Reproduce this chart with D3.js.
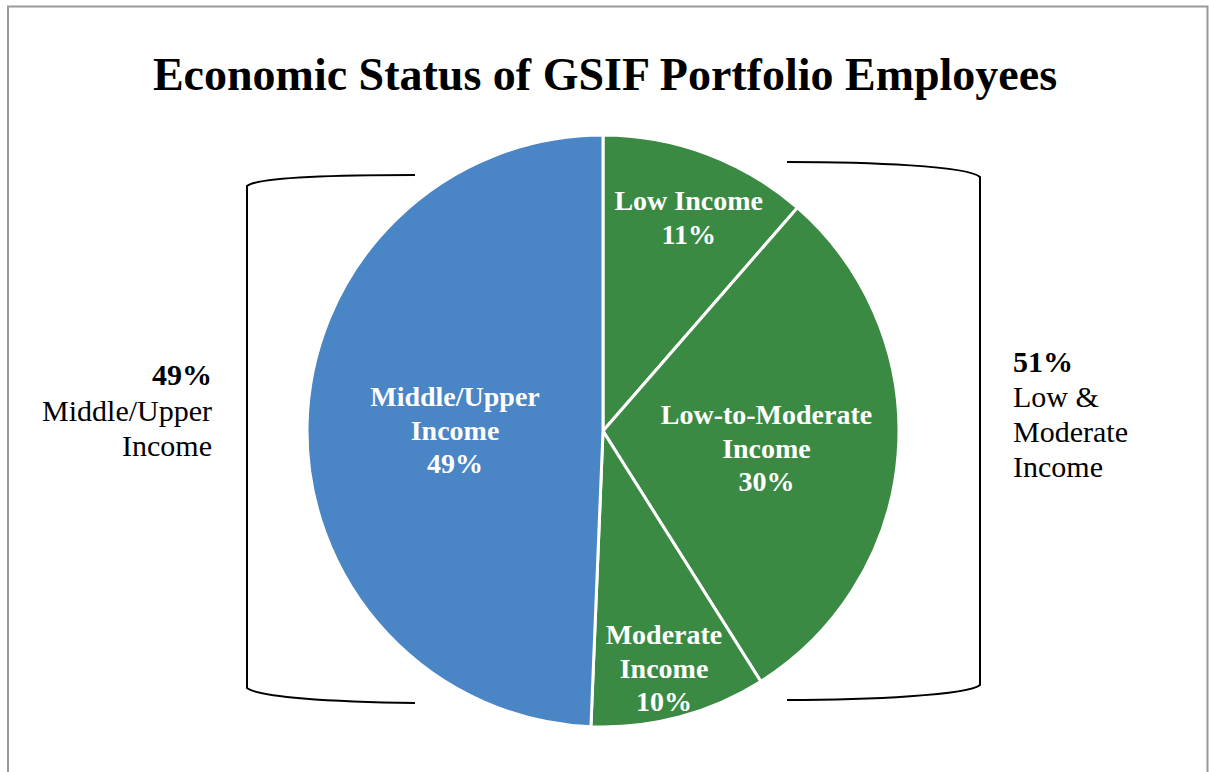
<!DOCTYPE html>
<html>
<head>
<meta charset="utf-8">
<script src="https://cdn.jsdelivr.net/npm/d3@7"></script>
<style>
  body { margin: 0; background: #fff; }
  text { font-family: "Liberation Serif", "Times New Roman", serif; }
</style>
</head>
<body>
<svg id="chart"></svg>
<script>
// data
var categories = ["Low Income", "Low-to-Moderate Income", "Moderate Income", "Middle/Upper Income"];
var labelLines = [["Low Income"], ["Low-to-Moderate", "Income"], ["Moderate", "Income"], ["Middle/Upper", "Income"]];
var shares = [11.4, 29.65, 9.6, 49.35];
var groupNames = [["Middle/Upper", "Income"], ["Low &", "Moderate", "Income"]];
var groupShares = [49, 51];

var screen = {width: 1209, height: 772};
var colors = ["#3b8a43", "#3b8a43", "#3b8a43", "#4a85c6"];
// label placement: fraction of radius and small angle nudge (degrees), one per slice
var labelRadius = [0.772, 0.556, 0.832, 0.5];
var labelNudge = [1.5, 2.2, 0.6, -1.5];

var svg = d3.select("#chart")
    .attr("width", screen.width)
    .attr("height", screen.height);

// frame
svg.append("path")
    .attr("d", "M8,780 L8,6.5 L1207.5,6.5 L1207.5,780")
    .style("fill", "none")
    .style("stroke", "#999")
    .style("stroke-width", 2);

svg.append("text")
    .attr("x", 605)
    .attr("y", 90)
    .attr("text-anchor", "middle")
    .style("font-size", "46px")
    .style("font-weight", "bold")
    .text("Economic Status of GSIF Portfolio Employees");

var cx = 603, cy = 431, radius = 296;

var pie = d3.pie().sort(null).value(function(d) { return d; });
var arcs = pie(shares);
var arc = d3.arc().innerRadius(0).outerRadius(radius);

var g = svg.append("g").attr("transform", "translate(" + cx + "," + cy + ")");

g.selectAll("path")
    .data(arcs)
    .enter()
    .append("path")
    .attr("d", arc)
    .style("fill", function(d, i) { return colors[i]; })
    .style("stroke", "#fff")
    .style("stroke-width", 3);

var lineH = 33.5;
g.selectAll("text.slice")
    .data(arcs)
    .enter()
    .append("text")
    .attr("class", "slice")
    .attr("text-anchor", "middle")
    .style("fill", "#fff")
    .style("font-weight", "bold")
    .style("font-size", "28px")
    .each(function(d, i) {
        var mid = (d.startAngle + d.endAngle) / 2 + labelNudge[i] * Math.PI / 180;
        var r = radius * labelRadius[i];
        var x = Math.sin(mid) * r, y = -Math.cos(mid) * r;
        var lines = labelLines[i].concat([Math.round(shares[i]) + "%"]);
        var top = y - (lines.length - 1) * lineH / 2 + 8;
        var t = d3.select(this);
        lines.forEach(function(l, k) {
            t.append("tspan").attr("x", x).attr("y", top + k * lineH).text(l);
        });
    });

// brackets
svg.append("path")
    .attr("d", "M415,175 C330,175 258,177 247,186 L247,688 C258,697 330,702 415,703")
    .style("fill", "none").style("stroke", "#000").style("stroke-width", 2);
svg.append("path")
    .attr("d", "M787,162 C870,162 968,166 980,177 L980,685 C968,695 870,700 787,700")
    .style("fill", "none").style("stroke", "#000").style("stroke-width", 2);

// group labels
var left = svg.append("text").attr("text-anchor", "end").style("font-size", "30px");
left.append("tspan").attr("x", 212).attr("y", 385).style("font-weight", "bold").text(groupShares[0] + "%");
groupNames[0].forEach(function(l, k) {
    left.append("tspan").attr("x", 212).attr("y", 421 + k * 35).text(l);
});

var right = svg.append("text").attr("text-anchor", "start").style("font-size", "30px");
right.append("tspan").attr("x", 1013).attr("y", 372).style("font-weight", "bold").text(groupShares[1] + "%");
groupNames[1].forEach(function(l, k) {
    right.append("tspan").attr("x", 1013).attr("y", 407 + k * 35).text(l);
});
</script>
</body>
</html>
